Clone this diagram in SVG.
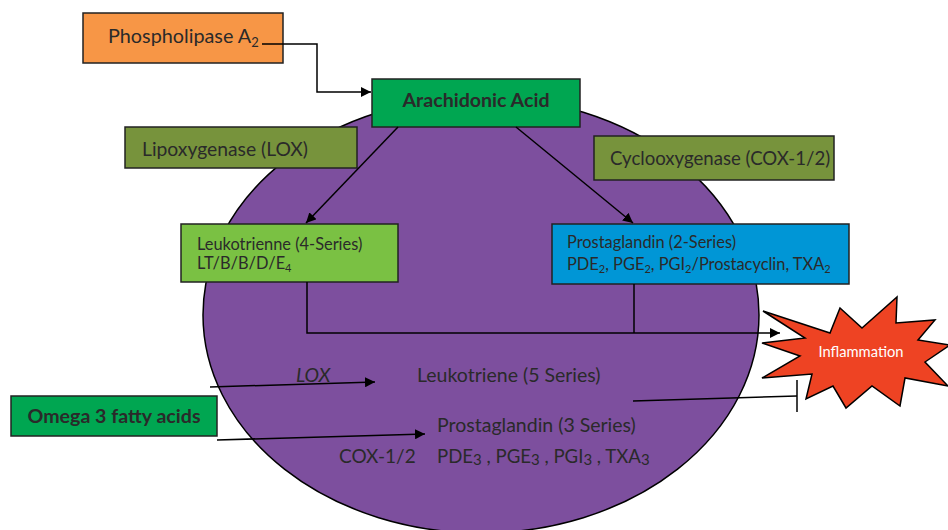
<svg xmlns="http://www.w3.org/2000/svg" width="948" height="530" viewBox="0 0 948 530">
<defs>
<marker id="ah" viewBox="0 0 10 10" refX="10" refY="5" markerWidth="10" markerHeight="10" markerUnits="userSpaceOnUse" orient="auto">
<path d="M0,0 L10,5 L0,10 z" fill="#000"/>
</marker>
<style>
.box{stroke:#222;stroke-width:1.5}
.t{font-family:Lato,"Open Sans",sans-serif;fill:#2a2a2a}
.c{fill:none;stroke:#000;stroke-width:1.5}
</style>
</defs>
<rect width="948" height="530" fill="#fff"/>
<g id="cell">
<ellipse cx="481" cy="315" rx="278" ry="218" fill="#7d4f9e" stroke="#000" stroke-width="1.5"/>
</g>
<g id="inflammation">
<polygon points="763,311 830,333 840,308 862,328 897,297 896,323 935,320 918,340 950,345 925,362 948,386 905,378 900,406 872,386 846,408 833,386 806,399 812,374 762,378 800,356 762,343 805,338" fill="#ee4323" stroke="#000" stroke-width="1.5"/>
<text class="t" x="861" y="357" text-anchor="middle" font-size="14.7" style="fill:#fff">Inflammation</text>
</g>
<g id="phospholipase">
<rect class="box" x="83" y="13" width="200" height="50" fill="#f79646"/>
<text class="t" x="108" y="43" font-size="19.8">Phospholipase A<tspan font-size="13" dy="4">2</tspan></text>
</g>
<g id="arachidonic">
<rect class="box" x="372" y="79" width="208" height="48" fill="#00a651"/>
<text class="t" x="476" y="107" font-size="19.6" font-weight="bold" text-anchor="middle">Arachidonic Acid</text>
</g>
<g id="lipoxygenase">
<rect class="box" x="125" y="127" width="232" height="41" fill="#77933c"/>
<text class="t" x="142" y="156" font-size="19.3">Lipoxygenase (LOX)</text>
</g>
<g id="cyclooxygenase">
<rect class="box" x="594" y="136" width="240" height="44" fill="#77933c"/>
<text class="t" x="610" y="165" font-size="18.6">Cyclooxygenase (COX-1/2)</text>
</g>
<g id="leukotrienne4">
<rect class="box" x="181" y="224" width="217" height="58" fill="#7ac143"/>
<text class="t" x="197" y="250" font-size="16.4">Leukotrienne (4-Series)</text>
<text class="t" x="197" y="269" font-size="16.4">LT/B/B/D/E<tspan font-size="11" dy="3">4</tspan></text>
</g>
<g id="prostaglandin2">
<rect class="box" x="552" y="224" width="297" height="60" fill="#0096d6"/>
<text class="t" x="567" y="248" font-size="16.4">Prostaglandin (2-Series)</text>
<text class="t" x="567" y="270" font-size="16.4">PDE<tspan font-size="11" dy="3">2</tspan><tspan dy="-3">, PGE</tspan><tspan font-size="11" dy="3">2</tspan><tspan dy="-3">, PGI</tspan><tspan font-size="11" dy="3">2</tspan><tspan dy="-3">/Prostacyclin, TXA</tspan><tspan font-size="11" dy="3">2</tspan></text>
</g>
<g id="omega3">
<rect class="box" x="11" y="396" width="206" height="40" fill="#00a651"/>
<text class="t" x="114" y="423" font-size="19.6" font-weight="bold" text-anchor="middle">Omega 3 fatty acids</text>
</g>
<g id="labels">
<text class="t" x="296" y="382" font-size="19.5" font-style="italic">LOX</text>
<text class="t" x="417" y="382" font-size="19.5">Leukotriene (5 Series)</text>
<text class="t" x="437" y="432" font-size="19.5">Prostaglandin (3 Series)</text>
<text class="t" x="339" y="463" font-size="19">COX-1/2</text>
<text class="t" x="437" y="463" font-size="18.6">PDE<tspan font-size="15" dy="2">3</tspan><tspan dy="-2"> , PGE</tspan><tspan font-size="15" dy="2">3</tspan><tspan dy="-2"> , PGI</tspan><tspan font-size="15" dy="2">3</tspan><tspan dy="-2"> , TXA</tspan><tspan font-size="15" dy="2">3</tspan></text>
</g>
<g id="connectors">
<polyline class="c" points="262,44 317,44 317,92 371,92" marker-end="url(#ah)"/>
<line class="c" x1="398" y1="127" x2="306" y2="223" marker-end="url(#ah)"/>
<line class="c" x1="516" y1="127" x2="633" y2="223" marker-end="url(#ah)"/>
<polyline class="c" points="307,282 307,333 780,333" marker-end="url(#ah)"/>
<line class="c" x1="634" y1="284" x2="634" y2="333"/>
<line class="c" x1="210" y1="387" x2="375" y2="382" marker-end="url(#ah)"/>
<line class="c" x1="217" y1="440" x2="425" y2="434" marker-end="url(#ah)"/>
<line class="c" x1="633" y1="401" x2="797" y2="396"/>
<line class="c" x1="797" y1="380" x2="797" y2="412"/>
</g>
</svg>
